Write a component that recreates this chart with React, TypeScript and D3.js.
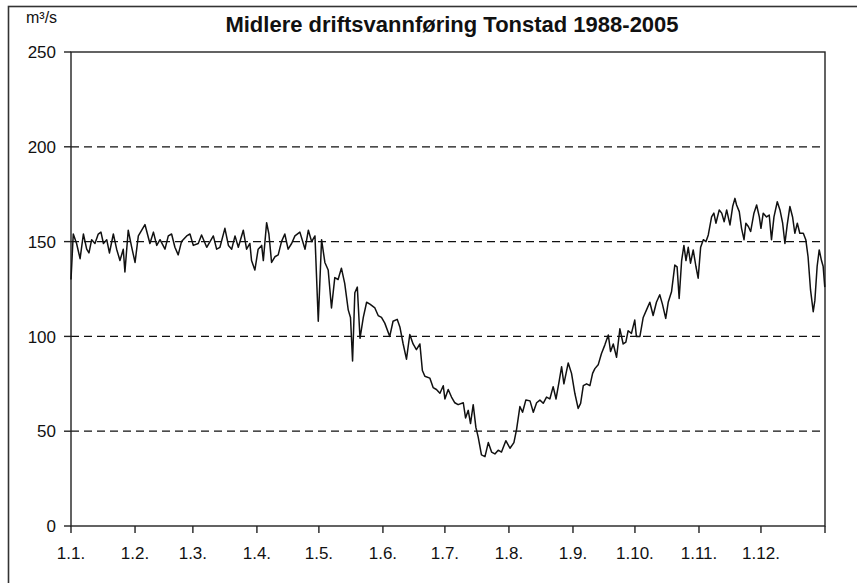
import React from "react";
import * as d3 from "d3";

// Day of year (0 = 1 January) and mean flow in m³/s
const dayOfYear = [
  0, 1.1, 2.7, 4.4, 6.0, 7.6, 8.7, 10.0, 11.6, 13.2, 14.5, 15.7, 17.3, 18.6, 20.5, 22.1, 23.7, 25.3, 26.1, 27.7,
  29.4, 31.0, 32.6, 35.8, 38.2, 39.9, 41.5, 43.1, 45.5, 47.1, 48.7, 50.3, 51.9, 53.5, 56.0, 57.6, 59.2,
  61.6, 63.2, 65.7, 67.3, 68.9, 70.5, 72.1, 74.5, 76.2, 77.8, 79.4, 81.0, 83.4, 85.0, 86.6, 87.4, 89.0, 90.6,
  92.3, 93.1, 94.7, 95.8, 97.1, 98.7, 100.3, 101.9, 103.5, 105.1, 106.8, 108.4,
  110.8, 113.3, 114.9, 116.5, 118.1, 119.7, 121.3, 122.9, 124.5, 126.1, 127.7, 129.3, 130.9, 132.5, 134.2,
  135.3, 136.3, 137.4, 138.6, 139.9, 141.5, 143.1, 144.7, 147.1, 148.7, 150.3, 151.9, 154.3, 155.9, 157.9,
  159.2, 160.8, 162.4, 164.0, 165.6, 167.2, 168.9, 170.1, 171.3, 173.7, 175.3, 176.9, 178.6, 180.2, 181.0,
  182.6, 184.2, 185.8, 187.4, 189.9, 191.0, 192.3, 193.4, 194.7, 196.0, 197.1, 198.7, 200.4, 202.0, 203.6,
  205.2, 206.8, 208.4, 210.5, 212.5, 214.4, 215.7, 217.3, 218.6, 220.2, 222.2, 223.8, 225.4,
  227.0, 228.6, 230.2, 231.8, 233.4, 234.8, 236.4, 237.5, 238.6, 240.7, 242.3, 243.9, 245.5, 246.7, 248.0,
  249.6, 251.2, 252.5, 253.6, 255.2, 256.8, 258.4, 260.1, 261.2, 262.5, 264.1, 265.7, 267.3, 268.6, 269.7,
  271.3, 272.9, 273.7, 275.4, 277.0, 278.6, 280.2, 281.8, 283.4, 285.0, 286.3, 287.9, 289.1, 290.7, 292.3,
  293.4, 294.4, 295.6, 296.7, 297.7, 298.8, 299.9, 301.2, 302.5, 303.6, 304.8, 306.1, 307.4, 308.5, 310.1,
  311.2, 312.2, 313.8, 315.0, 316.2, 317.4, 319.0, 320.3, 321.4, 322.2, 323.5, 324.6, 325.8, 326.7, 327.9,
  329.0, 330.6, 331.9, 333.2, 334.0, 335.1, 336.7, 338.0, 339.1, 340.3, 341.9, 343.2, 344.5, 345.6, 346.7,
  348.0, 349.3, 350.4, 351.6, 352.8, 354.5, 355.7, 356.8, 358.0, 359.3, 360.1, 361.2, 362.2, 363.3, 364.1, 364.9,
];

const flow = [
  130, 154, 149, 141, 154, 146, 144, 151, 149, 154, 155, 149, 151, 144, 154, 146, 140, 146, 134, 156,
  147, 139, 153, 159, 149, 155, 148, 151, 146, 153, 154, 147, 143, 150, 153, 154, 148,
  149, 153.5, 147, 150, 153, 146, 147, 157, 148, 146, 153, 147, 156, 146, 149, 140, 135, 146,
  148, 140, 160, 154, 139, 142, 143, 150, 154, 146, 149, 153,
  155, 146, 156, 150, 153, 108, 151, 139, 135, 115, 131, 130, 136, 128, 114,
  110, 87, 123, 126, 99, 110, 118, 117, 115, 111, 110, 107, 100, 108, 109,
  105, 96, 88, 101, 96, 93, 96, 82, 79, 78, 73, 72, 70, 74, 67,
  72, 68, 65, 64, 65, 57, 61, 54, 64, 52, 47, 37.5, 36.6, 44, 39,
  38, 40, 39, 45, 41, 44, 51, 63, 60, 66.5, 66, 60, 65,
  66.4, 64.7, 68, 67, 73.5, 67, 77, 84, 75, 86, 80.5, 70, 62, 64.7, 74,
  75, 74, 80.5, 83, 85, 91, 95.4, 100.7, 92, 96, 89, 104, 96, 97, 103,
  101.6, 108.6, 100, 100, 110, 114, 118, 111, 118, 122, 117, 109.5, 118, 123.5, 137.6,
  136.7, 120, 140, 148, 140, 147, 138.6, 145.6, 137, 130.7, 147, 151, 150, 153.5, 163,
  165, 159.7, 166.7, 165, 160.5, 166.7, 158.8, 168.5, 172.8, 169.3, 165.8, 157, 151, 159.7, 158,
  155.3, 165, 169.3, 163, 157, 165, 163, 164, 151, 163, 171, 166.7, 159.7, 149, 158.8,
  168.5, 163, 154.4, 159.7, 154.4, 154.4, 151, 142, 124.5, 113, 119, 137, 145.6, 140, 137, 126,
];

const monthStartDays = [0, 31, 59, 90, 120, 151, 181, 212, 243, 273, 304, 334];
const monthLabels = ["1.1.", "1.2.", "1.3.", "1.4.", "1.5.", "1.6.", "1.7.", "1.8.", "1.9.", "1.10.", "1.11.", "1.12."];
const yTicks = [0, 50, 100, 150, 200, 250];
const gridValues = [50, 100, 150, 200];

const title = "Midlere driftsvannføring Tonstad 1988-2005";
const unitLabel = "m³/s";

export default function App() {
  const W = 857;
  const H = 583;
  const left = 71;
  const right = 825;
  const top = 52;
  const bottom = 526;
  const font = "'Liberation Sans', Arial, Helvetica, sans-serif";

  const x = d3.scaleLinear().domain([0, 365]).range([left, right]);
  const y = d3.scaleLinear().domain([0, 250]).range([bottom, top]);

  const pts: [number, number][] = dayOfYear.map((d, i) => [d, flow[i]]);
  const line = d3
    .line<[number, number]>()
    .x((d) => x(d[0]))
    .y((d) => y(d[1]));

  const xTickDays = [...monthStartDays, 365];

  return (
    <svg
      width={W}
      height={H}
      style={{ position: "absolute", left: 0, top: 0, background: "#fff" }}
      fontFamily={font}
    >
      <rect x={0} y={0} width={W} height={H} fill="#fff" />
      {/* outer frame */}
      <rect x={8.5} y={6.5} width={W + 20} height={H + 20} fill="none" stroke="#333" strokeWidth={1.6} />

      {/* title */}
      <text x={452} y={32} textAnchor="middle" fontSize={22} fontWeight="bold" fill="#111">
        {title}
      </text>
      <text x={26} y={23} fontSize={16} fill="#111">
        {unitLabel}
      </text>

      {/* gridlines */}
      {gridValues.map((v) => (
        <line
          key={"g" + v}
          x1={left}
          x2={right}
          y1={y(v)}
          y2={y(v)}
          stroke="#111"
          strokeWidth={1.3}
          strokeDasharray="8,5"
        />
      ))}

      {/* plot frame */}
      <rect
        x={left}
        y={top}
        width={right - left}
        height={bottom - top}
        fill="none"
        stroke="#222"
        strokeWidth={1.4}
      />

      {/* y ticks */}
      {yTicks.map((v) => (
        <g key={"y" + v}>
          <line x1={left - 7} x2={left} y1={y(v)} y2={y(v)} stroke="#222" strokeWidth={1.4} />
          <text x={56} y={y(v)} dy="0.36em" textAnchor="end" fontSize={17} fill="#111">
            {v}
          </text>
        </g>
      ))}

      {/* x ticks */}
      {xTickDays.map((d) => (
        <line key={"xt" + d} x1={x(d)} x2={x(d)} y1={bottom} y2={bottom + 7} stroke="#222" strokeWidth={1.4} />
      ))}
      {monthStartDays.map((d, i) => (
        <text key={"xl" + d} x={x(d)} y={559} textAnchor="middle" fontSize={17} fill="#111">
          {monthLabels[i]}
        </text>
      ))}

      {/* data line */}
      <path d={line(pts) || ""} fill="none" stroke="#111" strokeWidth={1.5} strokeLinejoin="round" />
    </svg>
  );
}
